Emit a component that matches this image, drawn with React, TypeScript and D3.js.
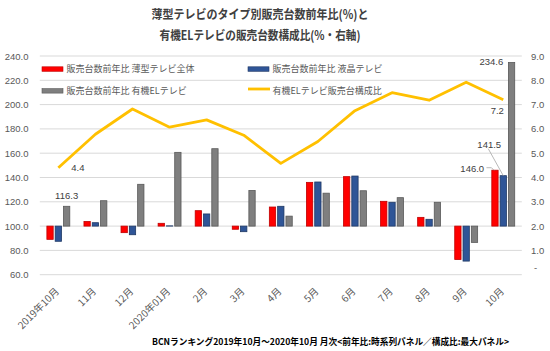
import React from "react";
import * as d3 from "d3";

const categories = ["2019年10月", "11月", "12月", "2020年01月", "2月", "3月", "4月", "5月", "6月", "7月", "8月", "9月", "10月"];
const flatAll = [89.1, 103.8, 94.6, 102.3, 112.7, 97.4, 115.7, 136.0, 140.7, 120.4, 107.2, 72.5, 146.0];
const lcd = [87.5, 102.8, 92.9, 100.2, 110.0, 95.4, 116.3, 136.3, 141.2, 119.6, 105.6, 71.2, 141.5];
const oled = [116.3, 120.9, 134.4, 160.7, 163.7, 129.3, 108.2, 127.1, 129.1, 123.4, 119.6, 86.6, 234.6];
const oledShare = [4.4, 5.78, 6.82, 6.07, 6.37, 5.74, 4.58, 5.48, 6.75, 7.49, 7.18, 7.92, 7.2];
const leftTicks = [60, 80, 100, 120, 140, 160, 180, 200, 220, 240];
const rightTicks = [0, 1, 2, 3, 4, 5, 6, 7, 8, 9];
const seriesNames = ["販売台数前年比 薄型テレビ全体", "販売台数前年比 液晶テレビ", "販売台数前年比 有機ELテレビ", "有機ELテレビ販売台構成比"];
const titleLines = ["薄型テレビのタイプ別販売台数前年比(%)と", "有機ELテレビの販売台数構成比(%・右軸)"];
const footer = "BCNランキング2019年10月～2020年10月 月次<前年比:時系列パネル／構成比:最大パネル>";

const FONT = "'Noto Sans CJK JP', 'Noto Sans', sans-serif";
const barKeys = ["flat", "lcd", "oled"];
const barData = [flatAll, lcd, oled];
const barFill = ["#FF0000", "#2F5597", "#7F7F7F"];
const barStroke = ["#C00000", "#1F3864", "#595959"];

export default function App() {
  const W = 550, H = 351;
  const left = 39.8, right = 521.8, top = 56, bottom = 274.7;
  const x = d3.scaleBand<string>().domain(categories).range([left, right]).padding(0);
  const xc = (i: number) => (x(categories[i]) as number) + x.bandwidth() / 2;
  const xi = d3.scaleBand<string>().domain(barKeys).range([-12.45, 12.45]).paddingInner(0.24).paddingOuter(0.12);
  const yL = d3.scaleLinear().domain([60, 240]).range([bottom, top]);
  const yR = d3.scaleLinear().domain([0, 9]).range([bottom, top]);
  const line = d3.line<number>().x((_, i) => xc(i)).y((d) => yR(d));

  const n = categories.length - 1;
  const bw = xi.bandwidth();
  const off = (k: string) => (xi(k) as number) + bw / 2;

  return (
    <div style={{ position: "absolute", left: 0, top: 0 }}>
      <svg width={W} height={H} style={{ display: "block", background: "#fff" }} fontFamily={FONT}>
        <rect x={0} y={0} width={W} height={H} fill="#fff" />
        {titleLines.map((t, i) => (
          <text key={t} x={260} y={19 + i * 21} textAnchor="middle" fontSize={12.5} fontWeight="bold" fill="#404040"
            textLength={i === 0 ? 217 : 201} lengthAdjust="spacingAndGlyphs">{t}</text>
        ))}
        {leftTicks.map((v) => (
          <line key={"g" + v} x1={left} x2={right} y1={yL(v)} y2={yL(v)} stroke="#D9D9D9" strokeWidth={1} />
        ))}
        {leftTicks.map((v) => (
          <text key={"l" + v} x={28.5} y={yL(v) + 3.5} textAnchor="end" fontSize={9.5} fill="#595959" fontFamily="'Liberation Sans', sans-serif">{v.toFixed(1)}</text>
        ))}
        {rightTicks.map((v) => (
          <text key={"r" + v} x={v === 0 ? 534 : 531} y={yR(v) + (v === 0 ? -4 : 3.5)} textAnchor="start" fontSize={9.5} fill="#595959" fontFamily="'Liberation Sans', sans-serif">{v === 0 ? "-" : v.toFixed(1)}</text>
        ))}
        {barData.map((arr, s) =>
          arr.map((v, i) => {
            const y0 = yL(100), y1 = yL(v);
            return (
              <rect key={s + "-" + i} x={xc(i) + (xi(barKeys[s]) as number)} y={Math.min(y0, y1)} width={bw}
                height={Math.abs(y1 - y0)} fill={barFill[s]} stroke={barStroke[s]} strokeWidth={0.8} />
            );
          })
        )}
        <path d={line(oledShare) as string} fill="none" stroke="#FFC000" strokeWidth={2.8} strokeLinejoin="round" />
        {categories.map((c, i) => (
          <text key={c} transform={`translate(${xc(i) + 1.5},${292}) rotate(-45)`} textAnchor="end" fontSize={10} fill="#595959">{c}</text>
        ))}
        {/* data labels */}
        <g fontSize={9.5} fill="#404040" fontFamily="'Liberation Sans', sans-serif">
          <text x={xc(0) + off("oled")} y={yL(oled[0]) - 7} textAnchor="middle">{oled[0].toFixed(1)}</text>
          <text x={xc(0) + 13} y={yR(oledShare[0]) + 3.5} textAnchor="start">{oledShare[0].toFixed(1)}</text>
          <text x={xc(n) + off("oled") - 8.3} y={yL(oled[n]) + 2.5} textAnchor="end">{oled[n].toFixed(1)}</text>
          <text x={xc(n) - 6} y={yR(oledShare[n]) + 14.5} textAnchor="middle">{oledShare[n].toFixed(1)}</text>
          <text x={xc(n) - 14} y={yL(lcd[n]) - 28} textAnchor="middle">{lcd[n].toFixed(1)}</text>
          <text x={xc(n) + off("flat") - 22.7} y={yL(flatAll[n]) + 1.6} textAnchor="middle">{flatAll[n].toFixed(1)}</text>
        </g>
        <line x1={xc(n) - 15} y1={yL(lcd[n]) - 27} x2={xc(n) + off("lcd")} y2={yL(lcd[n])} stroke="#A6A6A6" strokeWidth={0.8} />
        <polyline points={`${xc(n) + off("flat") - 8.5},${yL(flatAll[n]) - 2.5} ${xc(n) + off("flat") - 3.5},${yL(flatAll[n]) - 2.5} ${xc(n) + off("flat") - 1},${yL(flatAll[n])}`}
          fill="none" stroke="#A6A6A6" strokeWidth={0.8} />
        {/* legend */}
        <g fontSize={9} fill="#595959">
          <rect x={42} y={66.8} width={21} height={4.5} fill={barFill[0]} stroke={barStroke[0]} strokeWidth={0.6} />
          <text x={66.5} y={72.2}>{seriesNames[0]}</text>
          <rect x={248} y={66.8} width={21} height={4.5} fill={barFill[1]} stroke={barStroke[1]} strokeWidth={0.6} />
          <text x={272.5} y={72.2}>{seriesNames[1]}</text>
          <rect x={42} y={88.6} width={21} height={4.5} fill={barFill[2]} stroke={barStroke[2]} strokeWidth={0.6} />
          <text x={66.5} y={94}>{seriesNames[2]}</text>
          <line x1={248} x2={270} y1={89} y2={89} stroke="#FFC000" strokeWidth={2.8} />
          <text x={272.5} y={94}>{seriesNames[3]}</text>
        </g>
        <text x={509} y={344.5} textAnchor="end" fontSize={9} fontWeight="bold" fill="#000"
          textLength={357} lengthAdjust="spacingAndGlyphs">{footer}</text>
      </svg>
    </div>
  );
}
